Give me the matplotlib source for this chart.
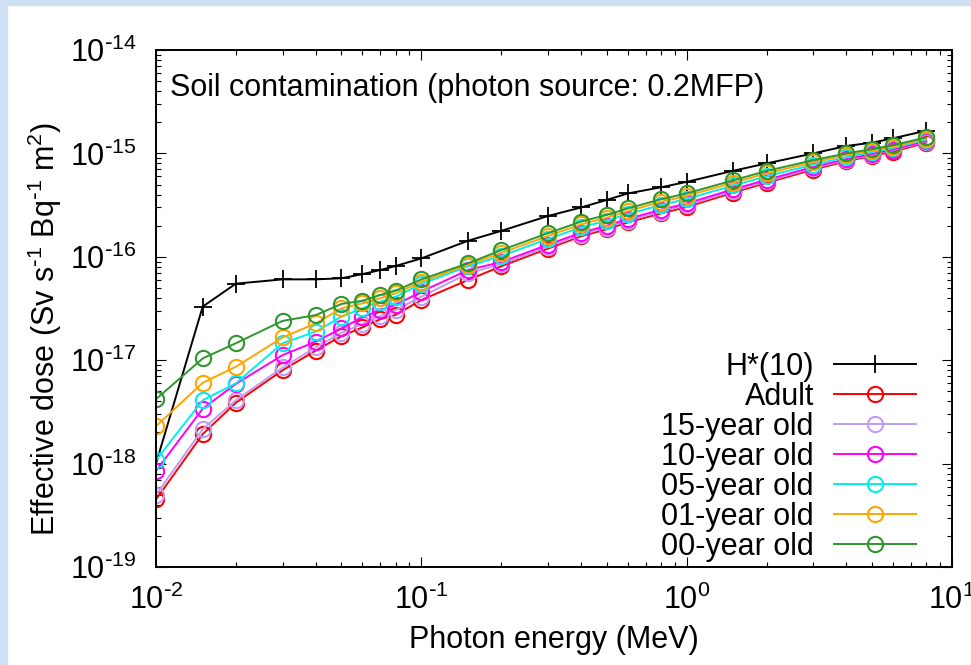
import numpy as np
import matplotlib
matplotlib.use('Agg')
import matplotlib.pyplot as plt
from matplotlib.patches import Rectangle
from matplotlib.ticker import FuncFormatter

plt.rcParams['font.family'] = ['Liberation Sans', 'DejaVu Sans']
plt.rcParams['mathtext.default'] = 'regular'

# photon energies (MeV)
energy = [0.01, 0.015, 0.02, 0.03, 0.04, 0.05, 0.06, 0.07, 0.08, 0.1,
          0.15, 0.2, 0.3, 0.4, 0.5, 0.6, 0.8, 1.0, 1.5, 2.0,
          3.0, 4.0, 5.0, 6.0, 8.0]

# dose coefficients (Sv s^-1 Bq^-1 m^2)
h10 = [1.0e-18, 3.3e-17, 5.5e-17, 6.05e-17, 6.05e-17, 6.2e-17, 6.8e-17, 7.45e-17, 8.15e-17, 9.65e-17,
       1.43e-16, 1.78e-16, 2.48e-16, 3.0e-16, 3.55e-16, 4.1e-16, 4.7e-16, 5.3e-16, 6.8e-16, 8.0e-16,
       1.0e-15, 1.18e-15, 1.27e-15, 1.4e-15, 1.66e-15]
adult = [4.5e-19, 1.93e-18, 3.88e-18, 8.0e-18, 1.24e-17, 1.71e-17, 2.08e-17, 2.49e-17, 2.74e-17, 3.82e-17,
         5.97e-17, 8.1e-17, 1.2e-16, 1.58e-16, 1.85e-16, 2.15e-16, 2.63e-16, 3.03e-16, 4.18e-16, 5.2e-16,
         6.97e-16, 8.4e-16, 9.46e-16, 1.04e-15, 1.27e-15]
age15 = [5.0e-19, 2.15e-18, 4.1e-18, 8.5e-18, 1.33e-17, 1.84e-17, 2.24e-17, 2.67e-17, 3.06e-17, 4.11e-17,
         6.9e-17, 8.5e-17, 1.25e-16, 1.64e-16, 1.92e-16, 2.24e-16, 2.74e-16, 3.15e-16, 4.33e-16, 5.37e-16,
         7.2e-16, 8.6e-16, 9.7e-16, 1.07e-15, 1.3e-15]
age10 = [8.5e-19, 3.4e-18, 5.9e-18, 1.12e-17, 1.51e-17, 2.03e-17, 2.6e-17, 3.06e-17, 3.42e-17, 4.6e-17,
         7.45e-17, 8.9e-17, 1.31e-16, 1.71e-16, 2.0e-16, 2.33e-16, 2.85e-16, 3.28e-16, 4.5e-16, 5.55e-16,
         7.4e-16, 8.8e-16, 9.9e-16, 1.09e-15, 1.32e-15]
age05 = [1.08e-18, 4.1e-18, 5.98e-18, 1.46e-17, 1.89e-17, 2.64e-17, 3.18e-17, 3.68e-17, 4.11e-17, 5.46e-17,
         8.1e-17, 1.02e-16, 1.49e-16, 1.93e-16, 2.24e-16, 2.59e-16, 3.17e-16, 3.63e-16, 4.9e-16, 6.0e-16,
         7.8e-16, 9.2e-16, 1.03e-15, 1.13e-15, 1.36e-15]
age01 = [2.3e-18, 6.05e-18, 8.65e-18, 1.66e-17, 2.27e-17, 3.18e-17, 3.55e-17, 3.97e-17, 4.43e-17, 5.74e-17,
         8.4e-17, 1.09e-16, 1.59e-16, 2.06e-16, 2.39e-16, 2.77e-16, 3.4e-16, 3.88e-16, 5.22e-16, 6.4e-16,
         8.2e-16, 9.65e-16, 1.06e-15, 1.16e-15, 1.39e-15]
age00 = [4.2e-18, 1.04e-17, 1.46e-17, 2.4e-17, 2.73e-17, 3.5e-17, 3.76e-17, 4.27e-17, 4.7e-17, 6.05e-17,
         8.65e-17, 1.16e-16, 1.69e-16, 2.19e-16, 2.54e-16, 2.94e-16, 3.6e-16, 4.1e-16, 5.5e-16, 6.76e-16,
         8.6e-16, 1.0e-15, 1.1e-15, 1.2e-15, 1.43e-15]

phantoms = ['Adult', '15-year old', '10-year old', '05-year old', '01-year old', '00-year old']
phantom_doses = [adult, age15, age10, age05, age01, age00]
phantom_colors = ['#ff0000', '#c09cf5', '#ff00ff', '#00eeee', '#ffa500', '#2e962e']


def pow10_label(v, pos):
    # gnuplot-style 10^n with a plain hyphen for the sign
    e = int(round(np.log10(v)))
    sign = r'\text{-}' if e < 0 else ''
    return r'$10^{%s%d}$' % (sign, abs(e))


fig = plt.figure(figsize=(9.71, 6.65), dpi=100)
# light blue frame along top and left edges
fig.patches.append(Rectangle((0, 0), 7 / 971, 1, transform=fig.transFigure,
                             color='#cde0f4', zorder=0))
fig.patches.append(Rectangle((0, 1 - 5 / 665), 1, 5 / 665, transform=fig.transFigure,
                             color='#cde0f4', zorder=0))

ax = fig.add_axes([156 / 971, 1 - 567 / 665, 796 / 971, 517 / 665])

ax.plot(energy, h10, color='black', lw=1.4, marker='+', ms=13, mew=1.3,
        label='H*(10)')
for name, dose, col in zip(phantoms, phantom_doses, phantom_colors):
    ax.plot(energy, dose, color=col, lw=1.4, marker='o', ms=11, mfc='none',
            mec=col, mew=1.5, label=name)

ax.set_xscale('log')
ax.set_yscale('log')
ax.set_xlim(1e-2, 10)
ax.set_ylim(1e-19, 1e-14)
ax.xaxis.set_major_formatter(FuncFormatter(pow10_label))
ax.yaxis.set_major_formatter(FuncFormatter(pow10_label))

ax.tick_params(which='both', direction='in', top=True, right=True,
               labelsize=22, width=0.8)
ax.tick_params(which='major', length=7)
ax.tick_params(which='minor', length=3.5)
ax.tick_params(axis='y', pad=14)
ax.tick_params(axis='x', pad=13)
for s in ax.spines.values():
    s.set_linewidth(1.4)

ax.set_xlabel('Photon energy (MeV)', fontsize=22, labelpad=6)
ax.set_ylabel(r'Effective dose (Sv s$^{\text{-}1}$ Bq$^{\text{-}1}$ m$^{2}$)', fontsize=22)
ax.yaxis.set_label_coords(-0.115, 0.46)

ax.text(0.018, 0.9265, 'Soil contamination (photon source: 0.2MFP)',
        transform=ax.transAxes, fontsize=22, va='center', ha='left')

ax.legend(loc='lower right', bbox_to_anchor=(0.955, 0.01), frameon=False,
          fontsize=22, markerfirst=False, handlelength=2.7, handletextpad=0.65,
          labelspacing=0.0, borderpad=0, borderaxespad=0)

fig.savefig('out.png', dpi=100)
